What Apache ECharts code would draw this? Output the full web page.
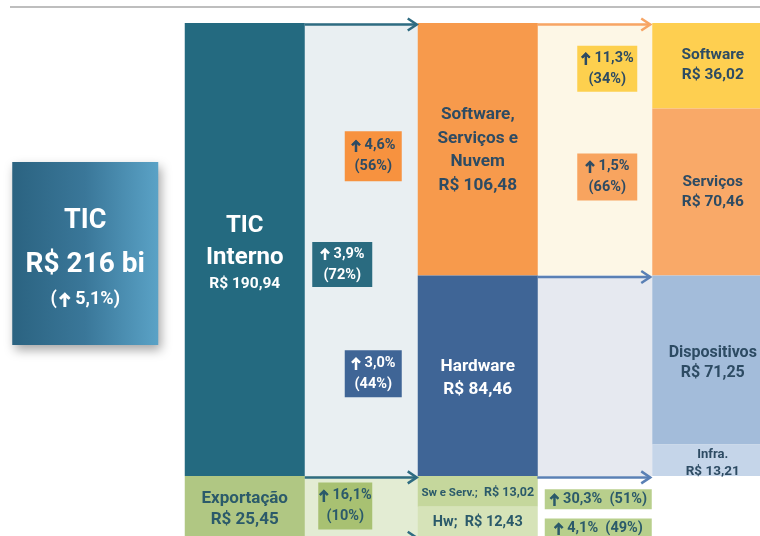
<!DOCTYPE html>
<html>
<head>
<meta charset="utf-8">
<script src="https://cdn.jsdelivr.net/npm/echarts@6/dist/echarts.min.js"></script>
<style>
  html, body { margin: 0; padding: 0; background: #fff; }
  #chart { width: 760px; height: 536px; }
</style>
</head>
<body>
<div id="chart"></div>
<script>
// valores em R$ bilhões
const colunas = ['Total', 'Destino', 'Fluxo destino', 'Segmento', 'Fluxo segmento', 'Subsegmento']
const totalTic = 216
const crescTotal = '5,1%'
const destinos = ['TIC Interno', 'Exportação']
const valoresDestino = [190.94, 25.45]
const crescDestino = ['3,9%', '16,1%']
const partDestino = ['72%', '10%']
const segmentos = ['Software, Serviços e Nuvem', 'Hardware', 'Sw e Serv.', 'Hw']
const valoresSegmento = [106.48, 84.46, 13.02, 12.43]
const crescSegmento = ['4,6%', '3,0%', '30,3%', '4,1%']
const partSegmento = ['56%', '44%', '51%', '49%']
const subsegmentos = ['Software', 'Serviços', 'Dispositivos', 'Infra.']
const valoresSubsegmento = [36.02, 70.46, 71.25, 13.21]
const crescSubsegmento = ['11,3%', '1,5%']
const partSubsegmento = ['34%', '66%']

const FONTE = 'Roboto, "DejaVu Sans", sans-serif'
const AZUL_TXT = '#2d4b63'
const VERDE_TXT = '#2b5a6a'

// larguras das colunas em px
const largura = [146, 120, 115, 120, 116, 117]

const estilos = {
  'TIC Interno': { cor: '#246a80', txt: '#fff', linhas: ['TIC', 'Interno'], tam: 24, lh: 32, tamV: 15.5, lhV: 20, dy: 3 },
  'Exportação': { cor: '#b0c783', txt: VERDE_TXT, linhas: ['Exportação'], tam: 17, lh: 21, tamV: 17, lhV: 21, dy: 3 },
  'Software, Serviços e Nuvem': { cor: '#f79a4c', txt: AZUL_TXT, linhas: ['Software,', 'Serviços e', 'Nuvem'], tam: 17.2, lh: 23.5, tamV: 17.2, lhV: 23.5, dy: 1 },
  'Hardware': { cor: '#3f6596', txt: '#fff', linhas: ['Hardware'], tam: 17.2, lh: 23, tamV: 17.2, lhV: 23, dy: 2 },
  'Sw e Serv.': { cor: '#c5d79c', txt: VERDE_TXT, linhas: ['Sw e Serv.;'], tam: 11.5, tamV: 12.5, emLinha: true, dy: 2 },
  'Hw': { cor: '#d6e3b8', txt: VERDE_TXT, linhas: ['Hw;'], tam: 14.5, tamV: 14.5, emLinha: true, dy: 1 },
  'Software': { cor: '#fecf50', txt: AZUL_TXT, linhas: ['Software'], tam: 15.5, lh: 20, tamV: 15.5, lhV: 20, dy: -1, dx: 2 },
  'Serviços': { cor: '#f9a968', txt: AZUL_TXT, linhas: ['Serviços'], tam: 15.5, lh: 20, tamV: 15.5, lhV: 20, dy: 0, dx: 2 },
  'Dispositivos': { cor: '#a3bcda', txt: AZUL_TXT, linhas: ['Dispositivos'], tam: 16, lh: 20, tamV: 16, lhV: 20, dy: 3, dx: 2 },
  'Infra.': { cor: '#c5d5e9', txt: AZUL_TXT, linhas: ['Infra.'], tam: 13, lh: 16, tamV: 13.5, lhV: 16, dy: 3, dx: 2 }
}

const fmt = v => v.toFixed(2).replace('.', ',')

// seta grossa para cima desenhada num canvas (usada como imagem no rich text)
function imagemSeta (cor) {
  const c = document.createElement('canvas')
  c.width = 20
  c.height = 26
  const ctx = c.getContext('2d')
  ctx.strokeStyle = cor
  ctx.lineWidth = 5
  ctx.lineJoin = 'miter'
  ctx.beginPath()
  ctx.moveTo(10, 26)
  ctx.lineTo(10, 4)
  ctx.stroke()
  ctx.beginPath()
  ctx.moveTo(2, 12)
  ctx.lineTo(10, 4)
  ctx.lineTo(18, 12)
  ctx.stroke()
  return c
}

function empilha (valores) {
  let acc = 0
  return valores.map(v => {
    const ini = acc
    acc += v
    return [ini, acc]
  })
}

const faixasDestino = empilha(valoresDestino)
const faixasSegmento = empilha(valoresSegmento)
const faixasSub = empilha(valoresSubsegmento)

const blocos = []
faixasDestino.forEach((f, i) => blocos.push({ col: 1, ini: f[0], fim: f[1], nome: destinos[i], valor: valoresDestino[i] }))
faixasSegmento.forEach((f, i) => blocos.push({ col: 3, ini: f[0], fim: f[1], nome: segmentos[i], valor: valoresSegmento[i] }))
faixasSub.forEach((f, i) => blocos.push({ col: 5, ini: f[0], fim: f[1], nome: subsegmentos[i], valor: valoresSubsegmento[i] }))

// faixas de fundo entre as colunas
const fluxos = [
  { col: 2, ini: faixasDestino[0][0], fim: faixasDestino[0][1], cor: '#e9eff2' },
  { col: 2, ini: faixasDestino[1][0], fim: faixasDestino[1][1], cor: '#e3ecd3' },
  { col: 4, ini: faixasSegmento[0][0], fim: faixasSegmento[0][1], cor: '#fdf7e6' },
  { col: 4, ini: faixasSegmento[1][0], fim: faixasSegmento[1][1], cor: '#e6e9f0' }
]

const setas = [
  { col: 2, v: faixasDestino[0][0], cor: '#2f6c82' },
  { col: 2, v: faixasDestino[1][0], cor: '#2f6c82' },
  { col: 2, v: faixasDestino[1][1], cor: '#2f6c82' },
  { col: 4, v: faixasSegmento[0][0], cor: '#f7a565' },
  { col: 4, v: faixasSegmento[1][0], cor: '#5a80b5' },
  { col: 4, v: faixasSegmento[2][0], cor: '#5a80b5' }
]

const centro = f => (f[0] + f[1]) / 2
const selos = [
  { col: 2, v: centro(faixasSegmento[0]), cresc: crescSegmento[0], part: partSegmento[0], cor: '#f7923f', txt: AZUL_TXT, dx: 12, dy: 7, w: 57, h: 50 },
  { col: 2, v: centro(faixasDestino[0]), cresc: crescDestino[0], part: partDestino[0], cor: '#2a6b80', txt: '#fff', dx: -19, dy: 15, w: 60, h: 45 },
  { col: 2, v: centro(faixasSegmento[1]), cresc: crescSegmento[1], part: partSegmento[1], cor: '#3f6596', txt: '#fff', dx: 12, dy: -2, w: 57, h: 47 },
  { col: 2, v: centro(faixasDestino[1]), cresc: crescDestino[1], part: partDestino[1], cor: '#a8c172', txt: VERDE_TXT, dx: -16, dy: 0, w: 54, h: 47 },
  { col: 4, v: centro(faixasSub[0]), cresc: crescSubsegmento[0], part: partSubsegmento[0], cor: '#fdd04e', txt: AZUL_TXT, dx: 13, dy: 3, w: 60, h: 46 },
  { col: 4, v: centro(faixasSub[1]), cresc: crescSubsegmento[1], part: partSubsegmento[1], cor: '#f8a45f', txt: AZUL_TXT, dx: 13, dy: -15, w: 60, h: 47 },
  { col: 4, v: centro(faixasSegmento[2]), cresc: crescSegmento[2], part: partSegmento[2], cor: '#b8cf8c', txt: VERDE_TXT, dx: 4, dy: 8, w: 107, h: 20, emLinha: true },
  { col: 4, v: centro(faixasSegmento[3]), cresc: crescSegmento[3], part: partSegmento[3], cor: '#b8cf8c', txt: VERDE_TXT, dx: 4, dy: 7, w: 107, h: 20, emLinha: true }
]

function rotulo (b, e) {
  const valor = 'R$ ' + fmt(b.valor)
  if (e.emLinha) return '{n|' + e.linhas[0] + '}{v|  ' + valor + '}'
  return e.linhas.map(l => '{n|' + l + '}').join('\n') + '\n{v|' + valor + '}'
}

function renderTotal (params, api) {
  const xc = api.coord([0, 0])[0] - 43
  const yc = api.coord([0, centro(faixasDestino[0])])[1] + 4
  const w = largura[0]
  const h = 183
  return {
    type: 'group',
    children: [
      {
        type: 'rect',
        shape: { x: xc - w / 2, y: yc - h / 2, width: w, height: h },
        style: {
          fill: new echarts.graphic.LinearGradient(0, 0, 1, 0, [
            { offset: 0, color: '#2b6381' },
            { offset: 0.5, color: '#3a7799' },
            { offset: 1, color: '#5aa2c6' }
          ]),
          shadowBlur: 10,
          shadowColor: 'rgba(0,0,0,0.35)',
          shadowOffsetX: 3,
          shadowOffsetY: 5
        }
      },
      {
        type: 'text',
        style: {
          x: xc,
          y: yc + 2,
          align: 'center',
          verticalAlign: 'middle',
          text: '{c|(}{g|x}{s| }{c| ' + crescTotal + ')}',
          rich: {
            c: { fontSize: 18, lineHeight: 26, fontWeight: 'bold', fontFamily: FONTE, fill: '#fff' },
            g: { width: 2, fontSize: 1, lineHeight: 26, fill: 'rgba(0,0,0,0)' },
            s: { width: 12, height: 15, lineHeight: 26, backgroundColor: { image: imagemSeta('#fff') } }
          }
        },
        y: 44
      },
      {
        type: 'text',
        style: {
          x: xc,
          y: yc + 2 - 13,
          align: 'center',
          verticalAlign: 'middle',
          text: '{a|TIC}\n{b|R$ ' + totalTic + ' bi}',
          rich: {
            a: { fontSize: 27, lineHeight: 46, fontWeight: 'bold', fontFamily: FONTE, fill: '#fff' },
            b: { fontSize: 28, lineHeight: 42, fontWeight: 'bold', fontFamily: FONTE, fill: '#fff' }
          }
        }
      }
    ]
  }
}

function renderFluxo (params, api) {
  const m = fluxos[params.dataIndex]
  const xc = api.coord([m.col, 0])[0]
  const w = largura[m.col]
  const y0 = api.coord([m.col, m.ini])[1]
  const y1 = api.coord([m.col, m.fim])[1]
  return { type: 'rect', shape: { x: xc - w / 2, y: y0, width: w, height: y1 - y0 }, style: { fill: m.cor } }
}

function renderBloco (params, api) {
  const b = blocos[params.dataIndex]
  const e = estilos[b.nome]
  const xc = api.coord([b.col, 0])[0]
  const w = largura[b.col]
  const y0 = api.coord([b.col, b.ini])[1]
  const y1 = api.coord([b.col, b.fim])[1]
  return {
    type: 'group',
    children: [
      { type: 'rect', shape: { x: xc - w / 2, y: y0, width: w, height: y1 - y0 }, style: { fill: e.cor } },
      {
        type: 'text',
        style: {
          x: xc + (e.dx || 0),
          y: (y0 + y1) / 2 + (e.dy || 0),
          align: 'center',
          verticalAlign: 'middle',
          text: rotulo(b, e),
          rich: {
            n: { fontSize: e.tam, lineHeight: e.lh || 16, fontWeight: 'bold', fontFamily: FONTE, fill: e.txt },
            v: { fontSize: e.tamV, lineHeight: e.lhV || 16, fontWeight: 'bold', fontFamily: FONTE, fill: e.txt }
          }
        }
      }
    ]
  }
}

function renderSeta (params, api) {
  const s = setas[params.dataIndex]
  const xc = api.coord([s.col, 0])[0]
  const w = largura[s.col]
  const y = api.coord([s.col, s.v])[1] + 1.5
  const x0 = xc - w / 2 + 1
  const x1 = xc + w / 2 - 2
  return {
    type: 'group',
    children: [
      { type: 'line', shape: { x1: x0, y1: y, x2: x1, y2: y }, style: { stroke: s.cor, lineWidth: 2.5 } },
      { type: 'polyline', shape: { points: [[x1 - 9, y - 6], [x1, y], [x1 - 9, y + 6]] }, style: { stroke: s.cor, lineWidth: 2.5, fill: null } }
    ]
  }
}

function renderSelo (params, api) {
  const s = selos[params.dataIndex]
  const xc = api.coord([s.col, 0])[0] + s.dx
  const yc = api.coord([s.col, s.v])[1] + s.dy
  const texto = s.emLinha
    ? '{a| }{s| ' + s.cresc + '  (' + s.part + ')}'
    : '{a| }{s| ' + s.cresc + '}\n{s|(' + s.part + ')}'
  return {
    type: 'group',
    children: [
      { type: 'rect', shape: { x: xc - s.w / 2, y: yc - s.h / 2, width: s.w, height: s.h }, style: { fill: s.cor } },
      {
        type: 'text',
        style: {
          x: xc,
          y: yc,
          align: 'center',
          verticalAlign: 'middle',
          text: texto,
          rich: {
            s: { fontSize: 14.5, lineHeight: 21, fontWeight: 'bold', fontFamily: FONTE, fill: s.txt },
            a: { width: 10, height: 13, lineHeight: 21, backgroundColor: { image: imagemSeta(s.txt) } }
          }
        }
      }
    ]
  }
}

const myChart = echarts.init(document.getElementById('chart'))

const option = {
  animation: false,
  grid: { left: 70, width: 699, top: 23, height: 220 * 2.372, outerBoundsMode: 'none', containLabel: false },
  xAxis: { type: 'category', data: colunas, show: false },
  yAxis: { type: 'value', inverse: true, min: 0, max: 220, show: false },
  graphic: [
    { type: 'line', shape: { x1: 10, y1: 7, x2: 760, y2: 7 }, style: { stroke: '#a9a9a9', lineWidth: 1.5 } }
  ],
  series: [
    { type: 'custom', z: 1, renderItem: renderFluxo, data: fluxos.map(m => [m.col, m.ini, m.fim]), encode: { x: 0, y: [1, 2] } },
    { type: 'custom', z: 2, renderItem: renderBloco, data: blocos.map(b => [b.col, b.ini, b.fim]), encode: { x: 0, y: [1, 2] } },
    { type: 'custom', z: 3, renderItem: renderTotal, data: [[0, centro(faixasDestino[0])]], encode: { x: 0, y: 1 } },
    { type: 'custom', z: 4, renderItem: renderSeta, data: setas.map(s => [s.col, s.v]), encode: { x: 0, y: 1 } },
    { type: 'custom', z: 5, renderItem: renderSelo, data: selos.map(s => [s.col, s.v]), encode: { x: 0, y: 1 } }
  ]
}

option && myChart.setOption(option)
</script>
</body>
</html>
